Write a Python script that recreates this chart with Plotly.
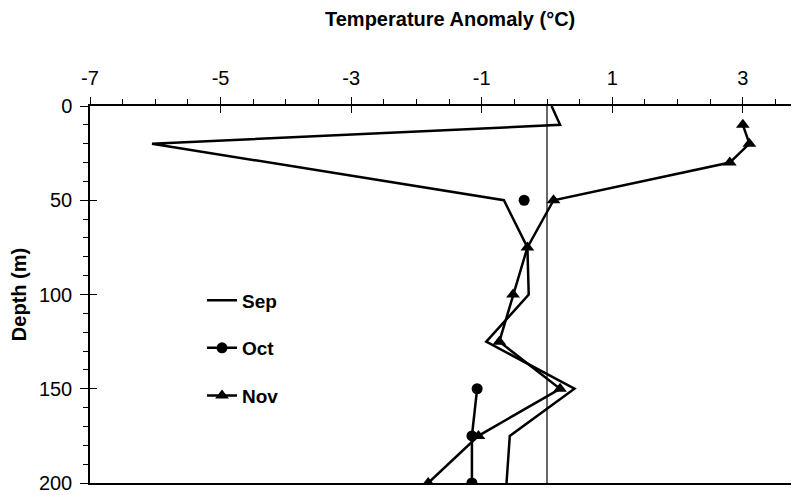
import plotly.graph_objects as go

sep_depth = [0, 10, 20, 50, 75, 100, 125, 150, 175, 200]
sep_temp = [0.07, 0.2, -6.05, -0.66, -0.3, -0.28, -0.93, 0.42, -0.57, -0.62]

oct_depth = [50, 75, 150, 175, 200]
oct_temp = [-0.35, None, -1.07, -1.15, -1.15]

nov_depth = [10, 20, 30, 50, 75, 100, 125, 150, 175, 200]
nov_temp = [3.0, 3.1, 2.8, 0.1, -0.3, -0.52, -0.73, 0.2, -1.05, -1.82]

x_ticks = [-7, -5, -3, -1, 1, 3]
x_tick_labels = ["-7", "-5", "-3", "-1", "1", "3"]
y_ticks = [0, 50, 100, 150, 200]

FONT = "Liberation Sans, Arial, sans-serif"
XR = [-7, 3.86]
YR = [200, 0]

fig = go.Figure()
fig.add_trace(go.Scatter(x=sep_temp, y=sep_depth, mode="lines", name="Sep",
                         line=dict(color="black", width=2.5), legendgroup="a"))
fig.add_trace(go.Scatter(x=oct_temp, y=oct_depth, mode="lines+markers", name="Oct",
                         line=dict(color="black", width=2.5),
                         marker=dict(symbol="circle", size=11, color="black"),
                         legendgroup="b"))
fig.add_trace(go.Scatter(x=nov_temp, y=nov_depth, mode="lines+markers", name="Nov",
                         line=dict(color="black", width=2.5),
                         marker=dict(symbol="triangle-up", size=12, color="black"),
                         legendgroup="c"))
# invisible helper trace for the inner tick half
fig.add_trace(go.Scatter(x=[0], y=[0], xaxis="x2", yaxis="y2", mode="markers",
                         marker=dict(opacity=0), showlegend=False, hoverinfo="skip"))

fig.add_shape(type="line", xref="x", yref="paper", x0=0, x1=0, y0=0, y1=1,
              line=dict(color="black", width=1.2))

fig.update_layout(
    width=799, height=495,
    margin=dict(l=82, r=8, t=98, b=20),
    paper_bgcolor="white", plot_bgcolor="white",
    font=dict(family=FONT, size=20, color="black"),
    xaxis=dict(side="top", range=XR, tickvals=x_ticks, ticktext=x_tick_labels,
               ticks="outside", ticklen=7,
               tickwidth=1, tickcolor="black", showline=True, linecolor="black",
               linewidth=1.5, mirror=True, showgrid=False, zeroline=False,
               automargin=False,
               minor=dict(dtick=0.5, tick0=-7, ticks="outside", ticklen=5,
                          tickcolor="black", showgrid=False),
               tickfont=dict(size=20), ticklabelstandoff=4),
    yaxis=dict(range=YR, tickvals=y_ticks, ticks="outside", ticklen=8, tickwidth=1,
               tickcolor="black", showline=True, linecolor="black", linewidth=1.5,
               showgrid=False, zeroline=False, automargin=False,
               minor=dict(dtick=10, tick0=0, ticks="outside", ticklen=5,
                          tickcolor="black", showgrid=False),
               title=dict(text="Depth (m)", font=dict(size=20, weight="bold"), standoff=12),
               tickfont=dict(size=20), ticklabelstandoff=4),
    xaxis2=dict(overlaying="x", side="top", anchor="y2", range=XR, tickvals=x_ticks,
                ticks="inside", ticklen=7, tickcolor="black", showticklabels=False,
                showline=False, showgrid=False, zeroline=False, automargin=False),
    yaxis2=dict(overlaying="y", side="left", anchor="x2", range=YR, tickvals=y_ticks,
                ticks="inside", ticklen=7, tickcolor="black", showticklabels=False,
                showline=False, showgrid=False, zeroline=False, automargin=False),
    legend=dict(x=0.158, y=0.535, xanchor="left", yanchor="top",
                bgcolor="rgba(0,0,0,0)", font=dict(size=19, weight="bold"),
                traceorder="grouped", tracegroupgap=20),
    showlegend=True,
    annotations=[dict(text="<b>Temperature Anomaly (°C)</b>", xref="paper", yref="paper",
                      x=0.5, y=1, yshift=74, xshift=5, showarrow=False,
                      font=dict(size=20), xanchor="center", yanchor="bottom")],
)

fig.write_html("out.html")
